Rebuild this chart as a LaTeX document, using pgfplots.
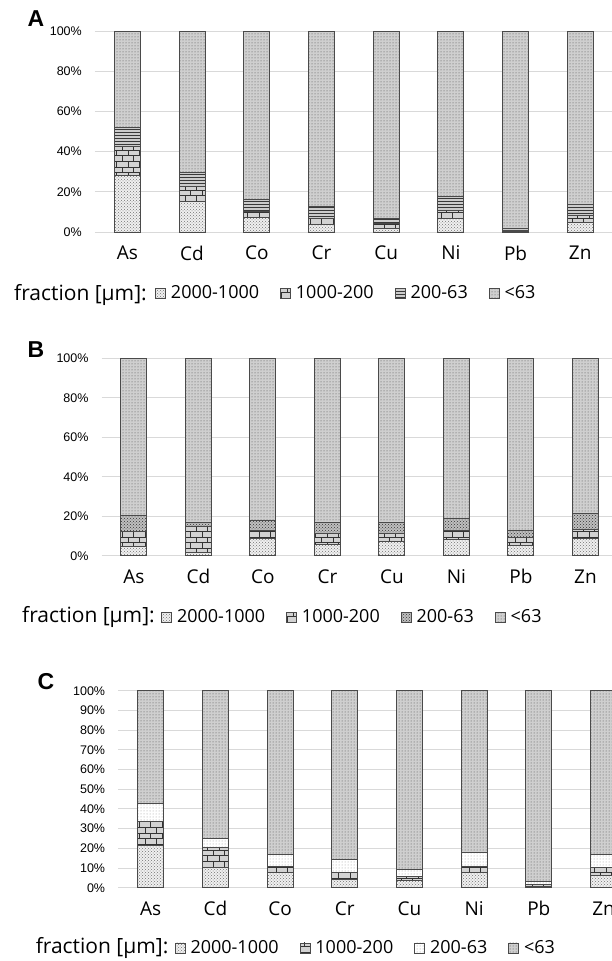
\documentclass[border=0pt]{standalone}
\usepackage{fontspec}
\setmainfont{Open Sans}
\newfontfamily\arialfont{Liberation Sans}
\usepackage{pgfplots}
\usepackage{pgfplotstable}
\pgfplotsset{compat=1.18}
\usetikzlibrary{patterns}

\definecolor{gridc}{HTML}{D9D9D9}
\definecolor{edgec}{HTML}{4A4A4A}

\pgfplotstableread{
x a b c d
0 28.0 14.5 9.5 48.0
1 15.0 7.5 7.0 70.5
2 7.3 2.8 6.2 83.7
3 3.5 3.3 6.1 87.1
4 1.8 2.2 2.8 93.2
5 6.8 4.1 6.7 82.4
6 0.3 0.5 1.0 98.2
7 4.6 3.4 5.9 86.1
}\tableA

\pgfplotstableread{
x a b c d
0 4.6 7.6 8.4 79.4
1 1.5 13.2 2.0 83.3
2 8.8 4.2 4.7 82.3
3 5.8 5.2 5.7 83.3
4 7.4 3.9 5.4 83.3
5 8.0 4.7 5.9 81.4
6 5.4 3.7 3.6 87.3
7 8.8 4.7 8.0 78.5
}\tableB

\pgfplotstableread{
x a b c d
0 21.2 12.3 9.3 57.2
1 10.3 10.2 4.6 74.9
2 7.8 2.9 6.3 83.0
3 4.3 3.5 6.6 85.6
4 3.6 2.0 3.7 90.7
5 7.6 3.4 7.0 82.0
6 0.5 1.2 1.7 96.6
7 6.4 3.8 6.9 82.9
}\tableC

\pgfplotsset{
  panel/.style={
    ybar stacked,
    scale only axis,
    xmin=-0.5, xmax=7.5,
    ymin=0, ymax=100,
    bar width=26pt,
    xtick={0,...,7},
    xticklabels={As,Cd,Co,Cr,Cu,Ni,Pb,Zn},
    axis line style={draw=none},
    major tick length=0pt,
    ymajorgrids,
    grid style={gridc, line width=1pt},
    yticklabel={\pgfmathprintnumber{\tick}\%},
    /pgf/number format/assume math mode=true,
    yticklabel style={font=\arialfont\fontsize{12.5}{14}\selectfont, anchor=east, inner sep=0pt, xshift=-13pt},
    xticklabel style={font=\fontsize{19}{22}\selectfont, anchor=center, yshift=-21pt, inner sep=0pt},
    legend columns=-1,
    legend cell align=left,
    legend style={draw=none, fill=none, inner sep=0pt, anchor=west,
      font=\fontsize{18}{20}\selectfont,
      nodes={inner sep=0pt},
      /tikz/every odd column/.append style={column sep=5pt},
      /tikz/every even column/.append style={column sep=21pt}},
    legend image code/.code={\draw[#1, line width=0.8pt] (0pt,-5pt) rectangle (10pt,5pt);},
  },
  fA/.style={draw=edgec, line width=1pt, fill=gray!12, postaction={pattern=crosshatch dots, pattern color=gray!90!black}},
  fB/.style={draw=edgec, line width=1pt, fill=gray!35, postaction={pattern=bricks, pattern color=gray!40!black}},
  fC/.style={draw=edgec, line width=1pt, fill=gray!40, postaction={pattern=horizontal lines, pattern color=gray!45!black}},
  fCb/.style={draw=edgec, line width=1pt, fill=gray!50, postaction={pattern=crosshatch dots, pattern color=black!80}},
  fCc/.style={draw=edgec, line width=1pt, fill=white, postaction={pattern=dots, pattern color=gray!80}},
  fD/.style={draw=edgec, line width=1pt, fill=gray!38, postaction={pattern=dots, pattern color=gray!60!black}},
}

\begin{document}
\begin{tikzpicture}
\useasboundingbox (0,0) rectangle (611pt,-961pt);

% ---------- Panel A ----------
\node[font=\arialfont\bfseries\fontsize{23}{26}\selectfont] at (36pt,-19pt) {A};
\begin{axis}[panel, at={(95pt,-232pt)}, anchor=south west,
  width=517.6pt, height=201pt, ytick={0,20,...,100},
  legend style={at={(0.1159,-0.3035)}}]
\addplot[fA] table[x=x,y=a]{\tableA};
\addplot[fB] table[x=x,y=b]{\tableA};
\addplot[fC] table[x=x,y=c]{\tableA};
\addplot[fD] table[x=x,y=d]{\tableA};
\legend{2000-1000,1000-200,200-63,<63}
\end{axis}
\node[anchor=east, inner sep=0pt, font=\fontsize{21}{24}\selectfont] at (147pt,-295pt) {fraction [μm]:};

% ---------- Panel B ----------
\node[font=\arialfont\bfseries\fontsize{23}{26}\selectfont] at (36pt,-350pt) {B};
\begin{axis}[panel, at={(101.7pt,-555.7pt)}, anchor=south west,
  width=516pt, height=197.4pt, ytick={0,20,...,100},
  legend style={at={(0.115,-0.3105)}}]
\addplot[fA] table[x=x,y=a]{\tableB};
\addplot[fB] table[x=x,y=b]{\tableB};
\addplot[fCb] table[x=x,y=c]{\tableB};
\addplot[fD] table[x=x,y=d]{\tableB};
\legend{2000-1000,1000-200,200-63,<63}
\end{axis}
\node[anchor=east, inner sep=0pt, font=\fontsize{21}{24}\selectfont] at (155pt,-617pt) {fraction [μm]:};

% ---------- Panel C ----------
\node[font=\arialfont\bfseries\fontsize{23}{26}\selectfont] at (46pt,-682pt) {C};
\begin{axis}[panel, at={(118.3pt,-887.7pt)}, anchor=south west,
  width=517.6pt, height=197pt, ytick={0,10,...,100},
  legend style={at={(0.1086,-0.306)}}]
\addplot[fA] table[x=x,y=a]{\tableC};
\addplot[fB] table[x=x,y=b]{\tableC};
\addplot[fCc] table[x=x,y=c]{\tableC};
\addplot[fD] table[x=x,y=d]{\tableC};
\legend{2000-1000,1000-200,200-63,<63}
\end{axis}
\node[anchor=east, inner sep=0pt, font=\fontsize{21}{24}\selectfont] at (168.6pt,-948pt) {fraction [μm]:};
\end{tikzpicture}
\end{document}
